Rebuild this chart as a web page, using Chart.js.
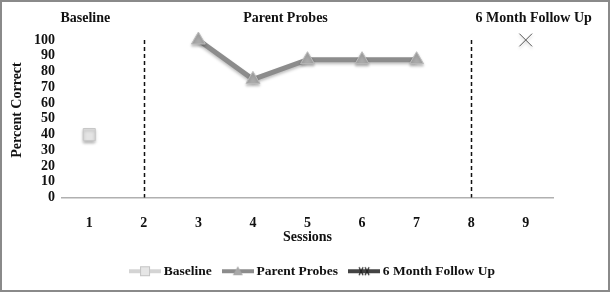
<!DOCTYPE html>
<html>
<head>
<meta charset="utf-8">
<script src="https://cdn.jsdelivr.net/npm/chart.js@4.4.0/dist/chart.umd.min.js"></script>
<style>
  html, body { margin: 0; padding: 0; background: #fff; }
  #wrap { width: 610px; height: 292px; box-sizing: border-box; border: 2px solid #8a8a8a; }
</style>
</head>
<body>
<div id="wrap"><canvas id="chart" width="606" height="288"></canvas></div>
<script>
// data
const sessions = ['1', '2', '3', '4', '5', '6', '7', '8', '9'];
const baseline = [40, null, null, null, null, null, null, null, null];
const parentProbes = [null, null, 100, 75, 87.5, 87.5, 87.5, null, null];
const followUp = [null, null, null, null, null, null, null, null, 100];
const phaseLabels = ['Baseline', 'Parent Probes', '6 Month Follow Up'];
const phaseAt = ['1', '5', '9'];
const phaseLines = ['2', '8'];
const yTitle = 'Percent Correct';

const serif = '"Liberation Serif", "DejaVu Serif", serif';

// small legend icons: line with marker on it
function legendIcon(lineColor, lineWidth, drawMarker) {
    const c = document.createElement('canvas');
    c.width = 32; c.height = 12;
    const g = c.getContext('2d');
    g.strokeStyle = lineColor;
    g.lineWidth = lineWidth;
    g.beginPath(); g.moveTo(0, 6); g.lineTo(32, 6); g.stroke();
    drawMarker(g);
    return c;
}
const iconBase = legendIcon('#d4d4d4', 4, g => {
    g.fillStyle = '#e6e6e6'; g.strokeStyle = '#c4c4c4'; g.lineWidth = 1;
    g.fillRect(11.5, 1.5, 9, 9); g.strokeRect(11.5, 1.5, 9, 9);
});
const iconParent = legendIcon('#8c8c8c', 4, g => {
    g.fillStyle = '#a8a8a8';
    g.beginPath(); g.moveTo(16, 1); g.lineTo(21, 10); g.lineTo(11, 10); g.closePath(); g.fill();
});
const iconFollow = legendIcon('#444', 4, g => {
    g.strokeStyle = '#222'; g.lineWidth = 1.2;
    g.beginPath();
    g.moveTo(11, 2); g.lineTo(15, 10); g.moveTo(15, 2); g.lineTo(11, 10);
    g.moveTo(17, 2); g.lineTo(21, 10); g.moveTo(21, 2); g.lineTo(17, 10);
    g.stroke();
});

// dashed phase lines, phase headings, y title
const phasePlugin = {
    id: 'phases',
    beforeDatasetsDraw(chart) {
        const {ctx, chartArea, scales} = chart;
        ctx.save();
        ctx.strokeStyle = '#111';
        ctx.lineWidth = 1.5;
        ctx.setLineDash([4, 3]);
        phaseLines.forEach(v => {
            const x = Math.round(scales.x.getPixelForValue(sessions.indexOf(v))) + 0.5;
            ctx.beginPath();
            ctx.moveTo(x, chartArea.top);
            ctx.lineTo(x, chartArea.bottom);
            ctx.stroke();
        });
        ctx.restore();
        ctx.save();
        ctx.font = 'bold 14px ' + serif;
        ctx.fillStyle = '#111';
        ctx.textAlign = 'center';
        ctx.textBaseline = 'middle';
        const shift = [-4, -22, 8];
        phaseLabels.forEach((t, i) => {
            const x = scales.x.getPixelForValue(sessions.indexOf(phaseAt[i])) + shift[i];
            ctx.fillText(t, x, 16);
        });
        ctx.translate(15, 108);
        ctx.rotate(-Math.PI / 2);
        ctx.font = 'bold 14px ' + serif;
        ctx.fillText(yTitle, 0, 0);
        ctx.restore();
    }
};

// soft drop shadow on the markers
const shadowPlugin = {
    id: 'shadow',
    beforeDatasetsDraw(chart) {
        const ctx = chart.ctx;
        ctx.save();
        ctx.shadowColor = 'rgba(0,0,0,0.25)';
        ctx.shadowBlur = 3;
        ctx.shadowOffsetY = 2;
    },
    afterDatasetsDraw(chart) {
        chart.ctx.restore();
    }
};

const ctx = document.getElementById('chart').getContext('2d');
new Chart(ctx, {
    type: 'line',
    data: {
        labels: sessions,
        datasets: [
            {
                label: 'Baseline',
                data: baseline,
                borderColor: '#d4d4d4',
                backgroundColor: '#e4e4e4',
                pointBackgroundColor: '#e4e4e4',
                pointBorderColor: '#c8c8c8',
                pointBorderWidth: 1,
                pointStyle: 'rect',
                pointRadius: 8.5,
                borderWidth: 4,
                clip: false
            },
            {
                label: 'Parent Probes',
                data: parentProbes,
                borderColor: '#8c8c8c',
                backgroundColor: '#ababab',
                pointBackgroundColor: '#ababab',
                pointBorderColor: '#bbbbbb',
                pointBorderWidth: 1,
                pointStyle: 'triangle',
                pointRadius: 8,
                borderWidth: 5,
                clip: false
            },
            {
                label: '6 Month Follow Up',
                data: followUp,
                borderColor: '#444',
                backgroundColor: '#444',
                pointBorderColor: '#555',
                pointBorderWidth: 1,
                pointStyle: 'crossRot',
                pointRadius: 9,
                borderWidth: 4,
                clip: false
            }
        ]
    },
    options: {
        responsive: false,
        animation: false,
        layout: { padding: { left: 18, right: 0, top: 38, bottom: 2 } },
        scales: {
            x: {
                offset: true,
                grid: { display: false, drawTicks: false },
                border: { display: true, color: '#b0b0b0', width: 1.5 },
                afterFit(s) { s.height = 53; },
                ticks: {
                    color: '#111',
                    padding: 17,
                    font: { family: serif, size: 14, weight: 'bold' }
                },
                title: {
                    display: true,
                    text: 'Sessions',
                    color: '#111',
                    padding: { top: 0, bottom: 5 },
                    font: { family: serif, size: 14, weight: 'bold' }
                }
            },
            y: {
                min: 0,
                max: 100,
                grid: { display: false, drawTicks: false },
                border: { display: false },
                afterFit(s) { s.width = 42; },
                ticks: {
                    stepSize: 10,
                    autoSkip: false,
                    color: '#111',
                    padding: 7,
                    font: { family: serif, size: 14, weight: 'bold' }
                }
            },
            // empty axis that only keeps room on the right
            yRight: {
                position: 'right',
                grid: { display: false, drawTicks: false },
                border: { display: false },
                ticks: { display: false },
                afterFit(s) { s.width = 55; }
            }
        },
        plugins: {
            tooltip: { enabled: false },
            legend: {
                position: 'bottom',
                labels: {
                    usePointStyle: true,
                    pointStyleWidth: 24,
                    padding: 14,
                    color: '#111',
                    font: { family: serif, size: 13.5, weight: 'bold' },
                    generateLabels(chart) {
                        const icons = [iconBase, iconParent, iconFollow];
                        return chart.data.datasets.map((d, i) => ({
                            text: d.label,
                            pointStyle: icons[i],
                            fillStyle: d.backgroundColor,
                            strokeStyle: d.borderColor,
                            lineWidth: 0,
                            hidden: false,
                            datasetIndex: i,
                            fontColor: '#111'
                        }));
                    }
                }
            }
        }
    },
    plugins: [phasePlugin, shadowPlugin]
});
</script>
</body>
</html>
